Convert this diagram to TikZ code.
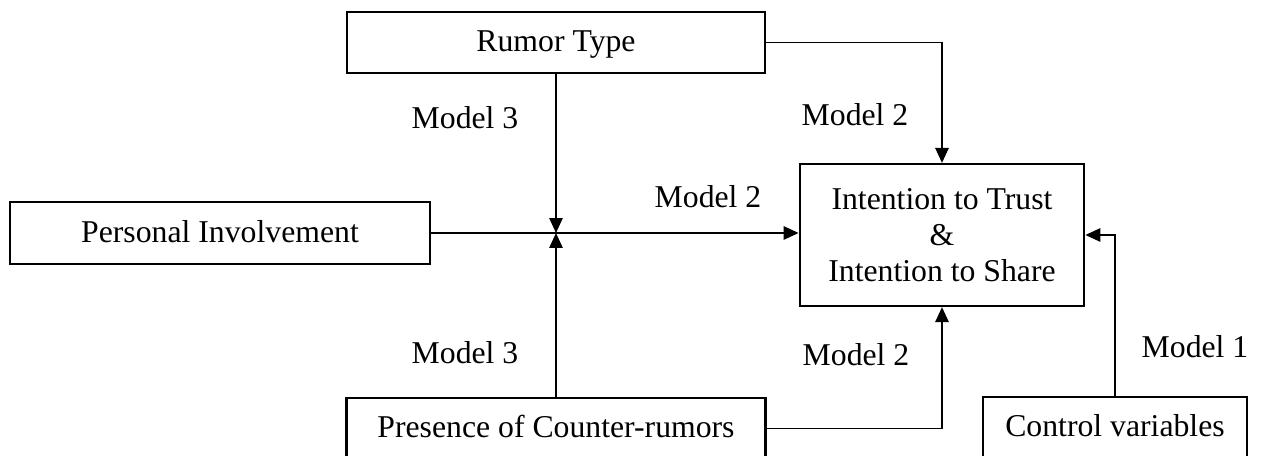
\documentclass[tikz,border=0pt]{standalone}
\usepackage{fontspec}
\setmainfont{Liberation Serif}
\usetikzlibrary{arrows.meta}
\begin{document}
\begin{tikzpicture}[x=0.375pt,y=-0.375pt,
  txt/.style={font=\fontsize{11.9}{13.6}\selectfont},
  box/.style={txt,draw,line width=0.85pt,inner sep=0pt,align=center},
  one/.style={text height=0.68em,text depth=0pt},
  lbl/.style={txt,inner sep=0pt},
  conn/.style={line width=0.65pt,-{Triangle[length=5.6pt,width=5pt]}}]
\clip (0,0) rectangle (1263,456);
\node[box,one,minimum width=156.75pt,minimum height=22.9pt] (RT) at (556,42.5) {Rumor Type};
\node[box,one,minimum width=157.5pt,minimum height=23.25pt] (PI) at (220,233) {Personal Involvement};
\node[box,minimum width=106.7pt,minimum height=53.25pt] (T) at (942,235) {Intention to Trust\\\&\\Intention to Share};
\node[box,one,minimum width=157.1pt,minimum height=22.9pt] (PC) at (556,428.5) {Presence of Counter-rumors};
\node[box,one,minimum width=98.8pt,minimum height=22.9pt] (CV) at (1115,427.5) {Control variables};
\coordinate (J) at (556,233);
\draw[conn] (RT.south) -- (J);
\draw[conn] (PC.north) -- (J);
\draw[conn] (PI.east) -- (PI.east -| T.west);
\draw[conn] (RT.east) -| (T.north);
\draw[conn] (PC.east) -| (T.south);
\draw[conn] (CV.north) |- (T.east);
\node[lbl] (m3a) at (465,118) {Model 3};
\node[lbl] (m3b) at (465,353) {Model 3};
\node[lbl] (m2a) at (855,115) {Model 2};
\node[lbl] (m2b) at (708,197) {Model 2};
\node[lbl] (m2c) at (856,355) {Model 2};
\node[lbl] (m1) at (1195,347) {Model 1};
\end{tikzpicture}
\end{document}
